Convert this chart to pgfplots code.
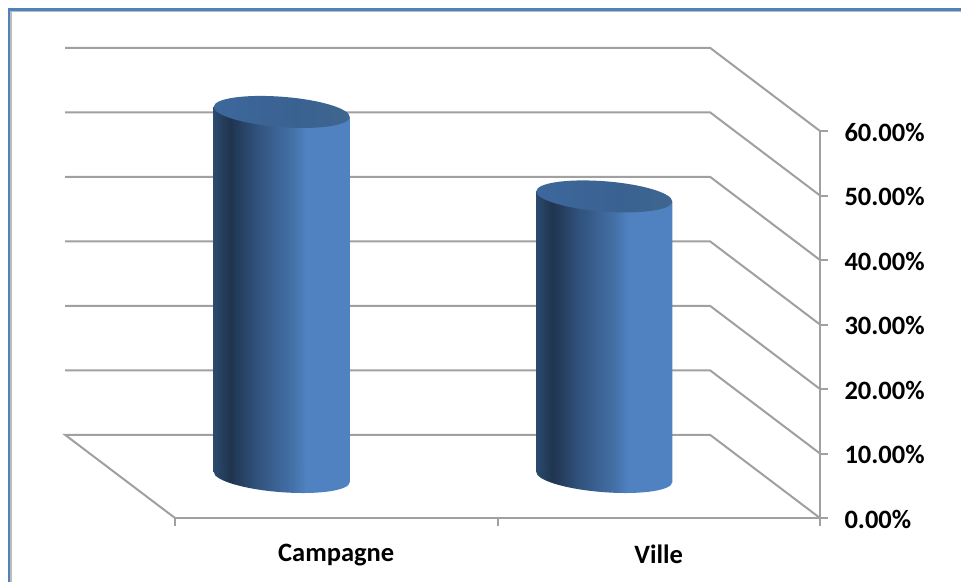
\documentclass[border=0pt]{standalone}
\usepackage{pgfplots}
\usepackage{fontspec}
\setmainfont{Carlito}
\pgfplotsset{compat=1.18}

\definecolor{cylA}{HTML}{2B4A6E}
\definecolor{cylB}{HTML}{20344F}
\definecolor{cylC}{HTML}{2F507A}
\definecolor{cylD}{HTML}{4471A8}
\definecolor{cylE}{HTML}{5082C2}
\definecolor{capA}{HTML}{3D689C}
\definecolor{capB}{HTML}{3A6291}
\definecolor{capC}{HTML}{3F668F}
\definecolor{wall}{HTML}{A0A0A0}
\definecolor{frameblue}{HTML}{4F81BD}

% gradient across the cylinder, left to right (the path covers 25bp to 75bp)
\pgfdeclarehorizontalshading{cyl}{100bp}{
  color(0bp)=(cylA); color(25bp)=(cylA); color(31bp)=(cylB); color(40bp)=(cylC);
  color(54bp)=(cylD); color(59bp)=(cylE); color(100bp)=(cylE)}
\pgfdeclarehorizontalshading{cyltop}{100bp}{
  color(0bp)=(capA); color(25bp)=(capA); color(55bp)=(capB); color(75bp)=(capC); color(100bp)=(capC)}

% tilted ellipses for the two ends of a cylinder
\pgfdeclareplotmark{cylbase}{%
  \pgfpathellipse{\pgfpointorigin}{\pgfqpoint{68pt}{-5pt}}{\pgfqpoint{0pt}{15.2pt}}%
  \pgfshadepath{cyl}{0}\pgfusepath{discard}}
\pgfdeclareplotmark{cylcap}{%
  \pgfpathellipse{\pgfpointorigin}{\pgfqpoint{68pt}{-5pt}}{\pgfqpoint{0pt}{15.2pt}}%
  \pgfshadepath{cyltop}{0}\pgfusepath{discard}}

\begin{document}
\begin{tikzpicture}
  \useasboundingbox (-175pt,-64pt) rectangle (786pt,518pt);
  \fill[white] (-175pt,-64pt) rectangle (786pt,518pt);
  % chart frame
  \draw[wall!70, line width=1.5pt] (-164.2pt,-64pt) -- (-164.2pt,506.8pt) -- (786pt,506.8pt);
  \draw[frameblue, line width=2.8pt] (-166pt,-64pt) -- (-166pt,508.4pt) -- (786pt,508.4pt);

  \begin{axis}[
    at={(0pt,0pt)}, anchor=south west,
    width=645pt, height=387pt, scale only axis,
    xmin=0, xmax=2, ymin=0, ymax=60,
    clip=false,
    axis x line=bottom, axis y line=right,
    axis line style={wall, line width=2.2pt, -},
    xtick={0.5,1.5}, xticklabels={Campagne,Ville},
    minor xtick={0,1,2},
    ytick={0,10,20,30,40,50,60},
    major x tick style={draw=none},
    minor tick style={wall, line width=2pt},
    major y tick style={wall, line width=2pt},
    tick align=outside,
    major tick length=8pt, minor tick length=8pt,
    tick label style={font=\fontsize{26.5}{28}\selectfont\bfseries, text=black},
    x tick label style={yshift=-15pt},
    y tick label style={anchor=west, xshift=13pt, yshift=-1pt},
    yticklabel={\pgfmathprintnumber[fixed, fixed zerofill, precision=2, assume math mode=true]{\tick}\%},
    /pgf/number format/assume math mode=true,
  ]
    % back wall, side wall and floor lines
    \addplot[wall, line width=2pt] coordinates {(-0.341,72.9) (1.659,72.9) (2,60)};
    \addplot[wall, line width=2pt] coordinates {(-0.341,62.9) (1.659,62.9) (2,50)};
    \addplot[wall, line width=2pt] coordinates {(-0.341,52.9) (1.659,52.9) (2,40)};
    \addplot[wall, line width=2pt] coordinates {(-0.341,42.9) (1.659,42.9) (2,30)};
    \addplot[wall, line width=2pt] coordinates {(-0.341,32.9) (1.659,32.9) (2,20)};
    \addplot[wall, line width=2pt] coordinates {(-0.341,22.9) (1.659,22.9) (2,10)};
    \addplot[wall, line width=2pt] coordinates {(0,0) (-0.341,12.9) (1.659,12.9) (2,0)};
  \end{axis}

  % cylinders stand half way into the floor
  \begin{axis}[
    at={(-54.5pt,41pt)}, anchor=south west,
    width=645pt, height=387pt, scale only axis,
    xmin=0, xmax=2, ymin=0, ymax=60,
    clip=false, hide axis,
  ]
    \addplot[only marks, mark=cylbase] coordinates {(0.5,0)};
    \addplot[draw=none, shade, shading=cyl] coordinates {(0.289,0.8) (0.289,57.4) (0.711,55.8) (0.711,-0.8) (0.289,0.8)};
    \addplot[only marks, mark=cylcap] coordinates {(0.5,56.6)};

    \addplot[only marks, mark=cylbase] coordinates {(1.5,0)};
    \addplot[draw=none, shade, shading=cyl] coordinates {(1.289,0.8) (1.289,44.3) (1.711,42.7) (1.711,-0.8) (1.289,0.8)};
    \addplot[only marks, mark=cylcap] coordinates {(1.5,43.5)};
  \end{axis}
\end{tikzpicture}
\end{document}
